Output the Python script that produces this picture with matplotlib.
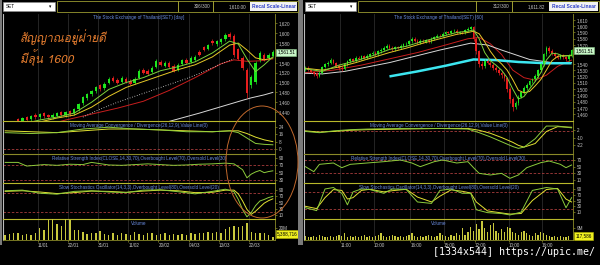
import numpy as np
import matplotlib
matplotlib.use("Agg")
import matplotlib.pyplot as plt
import matplotlib.font_manager as fm
from matplotlib.ft2font import FT2Font
from matplotlib.patches import Rectangle, Ellipse

plt.rcParams['font.family'] = ['Liberation Sans', 'DejaVu Sans']

# ---------------- left chart: SET daily ----------------
day_ticks = [8, 15, 22, 29, 36, 43, 50, 57]
day_tick_labels = ["11/01", "22/01", "31/01", "11/02", "20/02", "04/03", "13/03", "22/03"]
day_price_ticks = [1440, 1460, 1480, 1500, 1520, 1540, 1580, 1600, 1620]

day_open = [1400, 1404, 1412, 1426, 1422, 1430, 1426, 1435, 1430, 1438,
            1434, 1430, 1433, 1440, 1434, 1442, 1438, 1446, 1458, 1468,
            1476, 1482, 1494, 1488, 1500, 1510, 1506, 1502, 1508, 1504,
            1500, 1510, 1526, 1524, 1522, 1532, 1542, 1534, 1540, 1534,
            1526, 1538, 1546, 1542, 1546, 1562, 1572, 1568, 1585, 1578,
            1582, 1588, 1598, 1594, 1568, 1550, 1526, 1494, 1502, 1545,
            1556, 1550, 1554]
day_close = [1405, 1410, 1418, 1422, 1428, 1425, 1432, 1430, 1436, 1432,
             1430, 1435, 1438, 1434, 1440, 1436, 1446, 1456, 1470, 1476,
             1482, 1490, 1486, 1498, 1508, 1504, 1500, 1510, 1502, 1498,
             1508, 1524, 1520, 1518, 1530, 1544, 1536, 1540, 1532, 1524,
             1536, 1545, 1540, 1550, 1552, 1556, 1566, 1576, 1580, 1584,
             1588, 1596, 1592, 1556, 1548, 1530, 1478, 1512, 1540, 1560,
             1547, 1556, 1561.51]
day_high = [1408, 1413, 1421, 1429, 1431, 1433, 1435, 1438, 1439, 1441,
            1437, 1438, 1441, 1443, 1443, 1445, 1449, 1459, 1473, 1479,
            1485, 1493, 1497, 1501, 1511, 1513, 1509, 1513, 1511, 1507,
            1511, 1527, 1529, 1527, 1533, 1547, 1545, 1543, 1543, 1537,
            1539, 1548, 1549, 1553, 1555, 1565, 1575, 1579, 1588, 1587,
            1591, 1600, 1602, 1598, 1571, 1553, 1530, 1516, 1543, 1564,
            1559, 1559, 1565]
day_low = [1397, 1401, 1409, 1419, 1419, 1422, 1423, 1427, 1427, 1429,
           1427, 1427, 1430, 1431, 1431, 1433, 1435, 1443, 1455, 1465,
           1473, 1479, 1483, 1485, 1497, 1501, 1497, 1499, 1499, 1495,
           1497, 1507, 1517, 1515, 1519, 1529, 1533, 1531, 1529, 1521,
           1523, 1535, 1537, 1539, 1543, 1553, 1563, 1565, 1577, 1575,
           1579, 1585, 1589, 1552, 1545, 1526, 1468, 1488, 1498, 1542,
           1544, 1547, 1551]
day_vol = [9, 10, 11, 12, 8, 10, 8, 11, 20, 17,
           33, 36, 27, 24, 35, 33, 16, 16, 14, 10,
           11, 11, 15, 10, 9, 11, 9, 12, 10, 9,
           13, 10, 9, 11, 12, 9, 10, 11, 9, 10,
           9, 10, 9, 11, 10, 12, 11, 13, 12, 14,
           12, 18, 22, 24, 22, 24, 29, 13, 12, 11,
           12, 9, 5.39]

day_ma_idx = [0, 4, 8, 12, 16, 20, 24, 28, 32, 36, 40, 44, 48, 52, 54, 56, 58, 60, 62]
day_ma_fast = [1400, 1416, 1424, 1430, 1438, 1460, 1486, 1500, 1510, 1524, 1532, 1542, 1560, 1584, 1578, 1548, 1522, 1536, 1552]
day_ma_slow = [1396, 1410, 1420, 1428, 1434, 1450, 1472, 1490, 1502, 1514, 1526, 1536, 1552, 1576, 1580, 1566, 1550, 1546, 1550]
day_red_idx = [0, 8, 14, 20, 26, 32, 38, 44, 50, 53, 56, 59, 62]
day_red = [1395, 1410, 1424, 1436, 1448, 1462, 1484, 1510, 1538, 1546, 1543, 1544, 1548]
day_long_idx = [35, 40, 45, 50, 55, 57, 60, 62]
day_long = [1414, 1426, 1438, 1451, 1464, 1469, 1475, 1480]
day_dot_idx = [18, 22, 26, 30, 34, 38, 42, 46, 50, 53]
day_dot = [1430, 1446, 1460, 1472, 1484, 1496, 1508, 1522, 1538, 1548]
day_sar_idx = [27, 28, 29, 30, 53, 54, 55, 56, 57, 58, 59, 60, 61, 62]
day_sar = [1514, 1513, 1512, 1511, 1604, 1603, 1601, 1599, 1596, 1592, 1586, 1579, 1570, 1560]

day_macd_idx = [0, 6, 12, 18, 24, 30, 36, 42, 48, 52, 54, 56, 58, 60, 62]
day_macd = [18, 17, 18, 22, 24, 22, 21, 19, 19, 20, 18, 12, 6, 5, 4.5]
day_signal = [20, 19, 18, 20, 22, 22, 21, 20, 19, 20, 20, 17, 13, 10, 8]
day_rsi_idx = [0, 3, 5, 9, 12, 15, 18, 20, 24, 27, 30, 33, 36, 39, 42, 45, 48, 51, 53, 55, 56, 57, 58, 59, 60, 61, 62]
day_rsi = [78, 78, 68, 72, 70, 73, 72, 78, 71, 70, 72, 74, 72, 70, 71, 73, 74, 76, 74, 58, 36, 46, 52, 56, 50, 53, 55]
day_sto_idx = [0, 4, 8, 12, 16, 20, 24, 28, 32, 36, 40, 44, 48, 51, 53, 54, 55, 56, 57, 58, 59, 60, 61, 62]
day_sto_k = [88, 90, 80, 77, 86, 88, 84, 82, 90, 91, 85, 78, 86, 93, 85, 60, 27, 4, 18, 40, 55, 60, 66, 70]
day_sto_d = [86, 88, 84, 79, 82, 87, 86, 83, 87, 90, 88, 82, 83, 90, 90, 78, 55, 28, 12, 22, 35, 48, 56, 62]

# ---------------- right chart: SET 60 min ----------------
hr_ticks = [13, 25, 38, 50, 61, 73, 85]
hr_tick_labels = ["11:00", "10:00", "16:00", "15:00", "12:00", "10:00", "16:00"]
hr_price_ticks = [1460, 1470, 1480, 1490, 1500, 1510, 1520, 1530, 1540, 1570, 1580, 1590, 1600, 1610]

hr_open = [1530, 1534, 1530, 1527, 1525, 1521, 1526, 1535, 1539, 1542,
           1546, 1541, 1537, 1534, 1532, 1539, 1544, 1547, 1545, 1550,
           1548, 1552, 1549, 1553, 1556, 1558, 1555, 1560, 1562, 1566,
           1569, 1566, 1563, 1567, 1565, 1569, 1571, 1572, 1576, 1580,
           1577, 1574, 1577, 1575, 1578, 1576, 1580, 1583, 1585, 1584,
           1588, 1591, 1589, 1592, 1593, 1589, 1591, 1590, 1594, 1596,
           1598, 1580, 1560, 1540, 1537, 1544, 1542, 1538, 1533, 1530,
           1526, 1522, 1517, 1500, 1484, 1471, 1478, 1488, 1495, 1502,
           1507, 1512, 1516, 1521, 1530, 1540, 1555, 1566, 1560, 1557,
           1552, 1550, 1554, 1551, 1547, 1553]
hr_close = [1534, 1530, 1527, 1524, 1521, 1526, 1535, 1539, 1542, 1546,
            1541, 1537, 1534, 1532, 1539, 1544, 1547, 1545, 1550, 1548,
            1552, 1549, 1553, 1556, 1558, 1555, 1560, 1562, 1566, 1569,
            1566, 1563, 1567, 1565, 1569, 1571, 1572, 1576, 1580, 1577,
            1574, 1577, 1575, 1578, 1576, 1580, 1583, 1585, 1584, 1588,
            1591, 1589, 1592, 1593, 1589, 1591, 1590, 1594, 1596, 1598,
            1580, 1560, 1540, 1537, 1544, 1542, 1538, 1533, 1530, 1526,
            1522, 1517, 1500, 1484, 1471, 1478, 1488, 1495, 1502, 1507,
            1512, 1516, 1521, 1530, 1540, 1555, 1566, 1560, 1557, 1552,
            1550, 1554, 1551, 1547, 1553, 1561.51]
hr_high = [1536, 1536, 1532, 1529, 1527, 1528, 1537, 1541, 1545, 1549,
           1548, 1543, 1539, 1536, 1541, 1546, 1550, 1549, 1552, 1552,
           1554, 1554, 1555, 1558, 1561, 1560, 1562, 1565, 1568, 1572,
           1571, 1568, 1569, 1569, 1571, 1573, 1575, 1578, 1583, 1582,
           1579, 1579, 1579, 1580, 1580, 1582, 1585, 1588, 1587, 1590,
           1593, 1593, 1594, 1596, 1595, 1593, 1593, 1596, 1598, 1601,
           1600, 1583, 1562, 1545, 1547, 1548, 1545, 1541, 1536, 1533,
           1529, 1525, 1519, 1503, 1487, 1481, 1490, 1497, 1504, 1509,
           1514, 1518, 1524, 1532, 1542, 1557, 1569, 1568, 1563, 1559,
           1555, 1556, 1556, 1553, 1555, 1564]
hr_low = [1528, 1528, 1525, 1520, 1517, 1519, 1524, 1533, 1537, 1540,
          1539, 1535, 1531, 1529, 1530, 1537, 1542, 1543, 1543, 1546,
          1546, 1547, 1547, 1551, 1554, 1553, 1553, 1558, 1560, 1564,
          1564, 1561, 1561, 1563, 1563, 1567, 1569, 1570, 1574, 1575,
          1572, 1572, 1573, 1573, 1574, 1574, 1578, 1581, 1582, 1582,
          1586, 1587, 1587, 1590, 1587, 1587, 1588, 1588, 1592, 1594,
          1577, 1555, 1535, 1532, 1534, 1539, 1535, 1530, 1527, 1523,
          1518, 1512, 1495, 1478, 1465, 1468, 1475, 1485, 1492, 1499,
          1504, 1509, 1513, 1518, 1527, 1537, 1552, 1557, 1554, 1549,
          1547, 1547, 1548, 1544, 1545, 1551]
hr_vol = [3, 2, 2.5, 3, 2, 4, 3, 2, 2.5, 3,
          2, 3, 4, 3, 5, 2, 3, 2.5, 3, 2,
          3, 4, 2, 3, 2.5, 3, 4, 5, 3, 2,
          3, 4, 3, 2.5, 3, 2, 3, 4, 5, 3,
          2, 3, 2.5, 3, 4, 3, 2, 3, 5, 4,
          3, 2.5, 4, 3, 5, 4, 9, 4, 6, 10,
          7, 12, 8, 14, 9, 6, 11, 13, 7, 5,
          8, 6, 10, 9, 6, 5, 4, 6, 7, 5,
          4, 3, 5, 4, 6, 5, 4, 3, 2.5, 3,
          2, 3, 2.5, 2, 3, 0.12]

hr_ma_idx = [0, 6, 12, 18, 24, 30, 36, 42, 48, 54, 58, 60, 62, 64, 66, 68, 70, 72, 74, 76, 78, 80, 82, 84, 86, 88, 90, 92, 95]
hr_ma_fast = [1532, 1528, 1538, 1545, 1553, 1563, 1568, 1576, 1583, 1590, 1592, 1594, 1580, 1558, 1545, 1538, 1530, 1518, 1500, 1484, 1488, 1500, 1512, 1526, 1546, 1557, 1556, 1552, 1554]
hr_ma_slow = [1533, 1530, 1535, 1542, 1550, 1558, 1565, 1573, 1580, 1587, 1590, 1592, 1588, 1575, 1560, 1548, 1540, 1530, 1515, 1498, 1494, 1496, 1505, 1515, 1530, 1545, 1552, 1553, 1553]
hr_red_idx = [0, 10, 20, 30, 40, 50, 58, 62, 66, 70, 74, 78, 82, 86, 90, 95]
hr_red = [1526, 1530, 1538, 1548, 1558, 1570, 1580, 1582, 1572, 1555, 1530, 1518, 1514, 1522, 1536, 1546]
hr_long_idx = [0, 6, 14, 30, 48, 59, 65, 70, 80, 88, 95]
hr_long = [1525, 1524, 1528, 1542, 1562, 1573, 1570, 1562, 1547, 1542, 1542]
hr_cyan_idx = [30, 40, 50, 60, 68, 76, 86, 95]
hr_cyan = [1520, 1528, 1537, 1547, 1546, 1543, 1541, 1541]
hr_sar_idx = [2, 3, 4, 5, 6, 7,
              9, 10, 11, 12, 13, 14,
              18, 19, 20, 21, 22, 23, 24, 25, 26, 27, 28, 29, 30, 31, 32,
              39, 40, 41, 42, 43, 44, 45, 46,
              48, 49, 50, 51, 52, 53, 54, 55, 56, 57, 58, 59,
              60, 61, 62, 63, 64, 65, 66, 67, 68, 69, 70, 71, 72, 73, 74, 75, 76, 77, 78, 79, 80, 81, 82, 83, 84, 85,
              74, 75, 76, 77, 78, 79, 80, 81, 82, 83, 84, 85, 86,
              88, 89, 90, 91, 92, 93, 94, 95]
hr_sar = [1514, 1515, 1516, 1517, 1519, 1521,
          1551, 1550, 1550, 1549, 1548, 1547,
          1530, 1531, 1533, 1535, 1537, 1539, 1541, 1543, 1545, 1547, 1549, 1551, 1553, 1555, 1557,
          1586, 1586, 1587, 1587, 1587, 1588, 1588, 1588,
          1568, 1569, 1570, 1571, 1572, 1573, 1574, 1575, 1576, 1577, 1578, 1579,
          1601, 1601, 1600, 1599, 1598, 1596, 1594, 1592, 1589, 1586, 1583, 1579, 1575, 1571, 1566, 1561, 1556, 1550, 1544, 1538, 1532, 1526, 1520, 1514, 1508, 1503,
          1462, 1463, 1465, 1467, 1470, 1473, 1477, 1481, 1486, 1491, 1497, 1503, 1510,
          1571, 1570, 1570, 1569, 1568, 1567, 1566, 1565]

hr_macd_idx = [0, 5, 10, 16, 22, 34, 48, 58, 62, 66, 70, 74, 76, 78, 82, 86, 90, 95]
hr_macd = [0, -2, 1, 3, 4, 5, 5, 4, -2, -9, -17, -25, -28, -26, -12, 9, 9, 6]
hr_signal = [1, -1, 0, 2, 3, 4, 5, 5, 2, -3, -10, -18, -23, -26, -20, 0, 8, 7]
hr_rsi_idx = [0, 3, 5, 10, 13, 16, 22, 28, 34, 38, 41, 46, 49, 54, 58, 60, 62, 66, 70, 73, 76, 79, 84, 87, 91, 93, 95]
hr_rsi = [50, 35, 57, 61, 47, 57, 61, 65, 70, 61, 50, 65, 70, 61, 65, 47, 30, 25, 30, 15, 25, 47, 62, 67, 57, 47, 55]
hr_sto_idx = [0, 4, 7, 10, 13, 15, 17, 20, 23, 28, 31, 36, 40, 45, 48, 52, 56, 59, 61, 65, 70, 73, 77, 81, 86, 90, 93, 95]
hr_sto_k = [25, 15, 90, 95, 75, 35, 80, 90, 88, 75, 90, 88, 45, 40, 85, 90, 75, 75, 18, 8, 5, 0, 10, 85, 95, 90, 25, 60]
hr_sto_d = [30, 22, 60, 88, 85, 55, 60, 85, 89, 80, 84, 89, 62, 45, 65, 87, 82, 76, 45, 14, 7, 3, 5, 50, 88, 92, 55, 45]

# ---------------- drawing ----------------
W, H = 600, 265
UP, DOWN = "#1ee61e", "#e61e1e"
OLIVE, SEP = "#8a8a28", "#b8b82a"
GRID, TXT, TITLE = "#333333", "#c4c4c4", "#6a8ce0"
YEL, GRN, DASH = "#e2e232", "#8ccc3c", "#a83c3c"

fig = plt.figure(figsize=(6, 2.65), dpi=100, facecolor="black")


def frac(x0, y0, x1, y1):
    return [x0 / W, 1 - y1 / H, (x1 - x0) / W, (y1 - y0) / H]


def box(x0, y0, x1, y1, fc, ec="none", lw=0.6):
    fig.add_artist(Rectangle((x0 / W, 1 - y1 / H), (x1 - x0) / W, (y1 - y0) / H,
                             transform=fig.transFigure, fc=fc, ec=ec, lw=lw))


def panel(x0, x1, y0, y1, xlim, ylim, yticks, ylabels, xticks, title, top_color=SEP):
    ax = fig.add_axes(frac(x0, y0, x1, y1), facecolor="black")
    ax.set_xlim(*xlim)
    ax.set_ylim(*ylim)
    ax.yaxis.tick_right()
    ax.set_yticks(yticks)
    ax.set_yticklabels(ylabels)
    ax.tick_params(axis="y", colors=OLIVE, labelcolor=TXT, labelsize=3.3,
                   length=1.6, width=0.5, pad=1.2)
    ax.set_xticks(xticks)
    ax.tick_params(axis="x", length=0, labelbottom=False)
    for name, sp in ax.spines.items():
        sp.set_visible(name in ("left", "right", "top"))
    ax.spines["right"].set_color(OLIVE)
    ax.spines["right"].set_linewidth(0.6)
    ax.spines["left"].set_color("#bcbcbc")
    ax.spines["left"].set_linewidth(0.8)
    ax.spines["top"].set_color(top_color)
    ax.spines["top"].set_linewidth(0.8)
    for t in xticks:
        ax.axvline(t - 0.5, color=GRID, lw=0.5, zorder=0)
    ax.annotate(title, (0.5, 1), xycoords="axes fraction", xytext=(0, -1.2),
                textcoords="offset points", ha="center", va="top",
                fontsize=3.3, color=TITLE, zorder=6)
    return ax


def candles(ax, o, h, l, c, width):
    x = np.arange(len(c))
    o, h, l, c = map(np.asarray, (o, h, l, c))
    col = np.where(c >= o, UP, DOWN)
    ax.vlines(x, l, h, colors=col, lw=0.5, zorder=3)
    ax.bar(x, np.maximum(np.abs(c - o), 0.8), bottom=np.minimum(o, c), width=width,
           color=col, lw=0, zorder=4)


def build(x0, x1, n, ticks, tick_labels, o, h, l, c, vol, price_lim, price_ticks,
          ma_idx, ma_fast, ma_slow, red_idx, red, long_idx, long_vals,
          macd_idx, macd, signal, macd_lim, macd_ticks,
          rsi_idx, rsi, rsi_lim, rsi_ticks,
          sto_idx, sto_k, sto_d, sto_lim, sto_ticks,
          vol_lim, vol_tick, vol_label, vol_box, vol_box_y,
          title, cwidth, vwidth):
    xlim = (-0.5, n - 0.5)
    xt = list(ticks)
    # price
    ax = panel(x0, x1, 13, 121, xlim, price_lim, price_ticks,
               [f"{v:,}" for v in price_ticks], xt, title, top_color="black")
    ax.plot(red_idx, red, color="#c81e1e", lw=0.7, zorder=2)
    ax.plot(long_idx, long_vals, color="#d8d8d8", lw=0.7, zorder=2)
    candles(ax, o, h, l, c, cwidth)
    ax.plot(ma_idx, ma_slow, color="#e6c828", lw=0.7, zorder=5)
    ax.plot(ma_idx, ma_fast, color="#7ed23c", lw=0.7, zorder=5)
    ax.annotate(f"{c[-1]:,.2f}", xy=(1, c[-1]), xycoords=("axes fraction", "data"),
                xytext=(1.6, 0), textcoords="offset points", va="center", ha="left",
                fontsize=3.3, color="black", annotation_clip=False, zorder=10,
                bbox=dict(boxstyle="square,pad=0.25", fc="#c8f5c8", ec="#8cc88c", lw=0.4))
    price_ax = ax
    # MACD
    ax = panel(x0, x1, 121, 154, xlim, macd_lim, macd_ticks, [str(v) for v in macd_ticks], xt,
               "Moving Average Convergence / Divergence(26,12,9),Value Line(0)")
    ax.axhline(0, color=DASH, lw=0.6, ls=(0, (3, 2)))
    ax.plot(macd_idx, signal, color=YEL, lw=0.7)
    ax.plot(macd_idx, macd, color=GRN, lw=0.7)
    # RSI
    ax = panel(x0, x1, 154, 183, xlim, rsi_lim, rsi_ticks, [str(v) for v in rsi_ticks], xt,
               "Relative Strength Index(CLOSE,14,30,70),Overbought Level(70),Oversold Level(30)",
               top_color=OLIVE)
    for lv in (70, 30):
        ax.axhline(lv, color=DASH, lw=0.6, ls=(0, (3, 2)))
    ax.plot(rsi_idx, rsi, color=GRN, lw=0.7)
    # Stochastic
    ax = panel(x0, x1, 183, 219, xlim, sto_lim, sto_ticks, [str(v) for v in sto_ticks], xt,
               "Slow Stochastics Oscillator(14,3,3),Overbought Level(80),Oversold Level(20)")
    for lv in (80, 20):
        ax.axhline(lv, color=DASH, lw=0.6, ls=(0, (3, 2)))
    ax.plot(sto_idx, sto_d, color=YEL, lw=0.7)
    ax.plot(sto_idx, sto_k, color=GRN, lw=0.7)
    # Volume
    ax = panel(x0, x1, 219, 240, xlim, vol_lim, [vol_tick], [vol_label], xt, "Volume")
    ax.bar(np.arange(n), vol, width=vwidth, color="#c8c83c", lw=0, zorder=3)
    ax.spines["bottom"].set_visible(True)
    ax.spines["bottom"].set_color(OLIVE)
    ax.spines["bottom"].set_linewidth(0.6)
    ax.set_xticks([t - 0.5 for t in xt])
    ax.set_xticklabels(tick_labels)
    ax.tick_params(axis="x", labelbottom=True, labelsize=3.3, labelcolor=TXT,
                   colors=OLIVE, length=1.5, width=0.5, pad=1)
    for lab in ax.get_xticklabels():
        lab.set_horizontalalignment("left")
    ax.annotate(vol_box, xy=(1, vol_box_y), xycoords="axes fraction",
                xytext=(1.6, 0), textcoords="offset points", va="center", ha="left",
                fontsize=3.3, color="black", annotation_clip=False, zorder=10,
                bbox=dict(boxstyle="square,pad=0.25", fc="#f0f020", ec="#b4b400", lw=0.4))
    return price_ax


# left window
axL = build(3, 275, len(day_close), day_ticks, day_tick_labels,
            day_open, day_high, day_low, day_close, day_vol,
            (1422, 1641), day_price_ticks,
            day_ma_idx, day_ma_fast, day_ma_slow, day_red_idx, day_red, day_long_idx, day_long,
            day_macd_idx, day_macd, day_signal, (-5.7, 30.9), [24, 16, 8, 0],
            day_rsi_idx, day_rsi, (21.8, 100.9), [90, 70, 50, 30],
            day_sto_idx, day_sto_k, day_sto_d, (-3, 113), [90, 70, 50, 30, 10],
            (0, 35), 20, "20M", "5,388,716", 0.29,
            "The Stock Exchange of Thailand(SET) [day]", 0.55, 0.32)
axL.plot(day_dot_idx, day_dot, color="#d0d0d0", lw=0.7, ls=(0, (0.8, 1.8)), zorder=2)
axL.scatter(day_sar_idx, day_sar, s=0.5, color="#e8b4b4", marker="s", lw=0, zorder=5)

# right window
axR = build(304, 573, len(hr_close), hr_ticks, hr_tick_labels,
            hr_open, hr_high, hr_low, hr_close, hr_vol,
            (1449, 1621), hr_price_ticks,
            hr_ma_idx, hr_ma_fast, hr_ma_slow, hr_red_idx, hr_red, hr_long_idx, hr_long,
            hr_macd_idx, hr_macd, hr_signal, (-37.4, 17.4), [2, -10, -22],
            hr_rsi_idx, hr_rsi, (1, 88), [70, 50, 30, 10],
            hr_sto_idx, hr_sto_k, hr_sto_d, (-14, 110.7), [90, 70, 50, 30, 10],
            (0, 15.75), 9, "9M", "117,586", 0.19,
            "The Stock Exchange of Thailand(SET) [60]", 0.6, 0.45)
axR.plot(hr_cyan_idx, hr_cyan, color="#3ce6f0", lw=1.8, zorder=2, solid_capstyle="butt")
axR.scatter(hr_sar_idx, hr_sar, s=0.5, color="#e8a0a0", marker="s", lw=0, zorder=5)

# window borders
box(0, 0, 2, 245, "#7a7a7a")
box(298, 0, 303, 245, "#7a7a7a")

# toolbars
for (x0, x1, count, last, d1, d2, d3) in [(3, 55, "306/300", "1,610.00", 178, 213, 249),
                                          (305, 356, "312/300", "1,611.82", 476, 512, 548)]:
    box(x0, 2, x1, 11, "white", ec="#909090", lw=0.4)
    fig.text((x0 + 3) / W, 1 - 6.5 / H, "SET", fontsize=3.3, color="black", va="center")
    fig.text((x1 - 5) / W, 1 - 6.5 / H, "\u25be", fontsize=3.3, color="black", va="center", ha="center")
    box(x1 + 2, 1, x1 + 243, 12, "black", ec="#9a9a30", lw=0.6)
    for d in (d1, d2):
        box(d, 1, d + 0.6, 12, "#9a9a30")
    fig.text((d2 - 3) / W, 1 - 6.5 / H, count, fontsize=3.3, color=TXT, va="center", ha="right")
    fig.text((d3 - 3) / W, 1 - 6.5 / H, last, fontsize=3.3, color=TXT, va="center", ha="right")
    box(d3 + 1, 2, x1 + 242, 11, "#f2f2f2")
    fig.text((d3 + 1 + x1 + 242) / 2 / W, 1 - 6.5 / H, "Recal Scale-Linear", fontsize=3.5,
             color="#2a3cc8", weight="bold", va="center", ha="center")

# hand-drawn note on the daily chart
thai = None
for f in fm.fontManager.ttflist:
    try:
        if 0x0E2A in FT2Font(f.fname).get_charmap():
            thai = f.name
            break
    except Exception:
        pass
thai_family = [thai, "DejaVu Sans"] if thai else ["DejaVu Sans"]
fig.text(20 / W, 1 - 37 / H, "สัญญาณอยู่ฝ่ายดี", fontsize=8.5, style="italic",
         color="#e07a2e", va="center", family=thai_family)
fig.text(20 / W, 1 - 58 / H, "มีลุ้น 1600", fontsize=8.5, style="italic",
         color="#e07a2e", va="center", family=thai_family)
fig.add_artist(Ellipse((262 / W, 1 - 162 / H), 72 / W, 112 / H, transform=fig.transFigure,
                       fill=False, ec="#c0682c", lw=0.7))

# watermark
fig.text(595 / W, 1 - 252 / H, "[1334x544] https://upic.me/", fontsize=7.2,
         family="DejaVu Sans Mono", color="white", ha="right", va="center")

fig.savefig("out.png", dpi=100, facecolor="black")
